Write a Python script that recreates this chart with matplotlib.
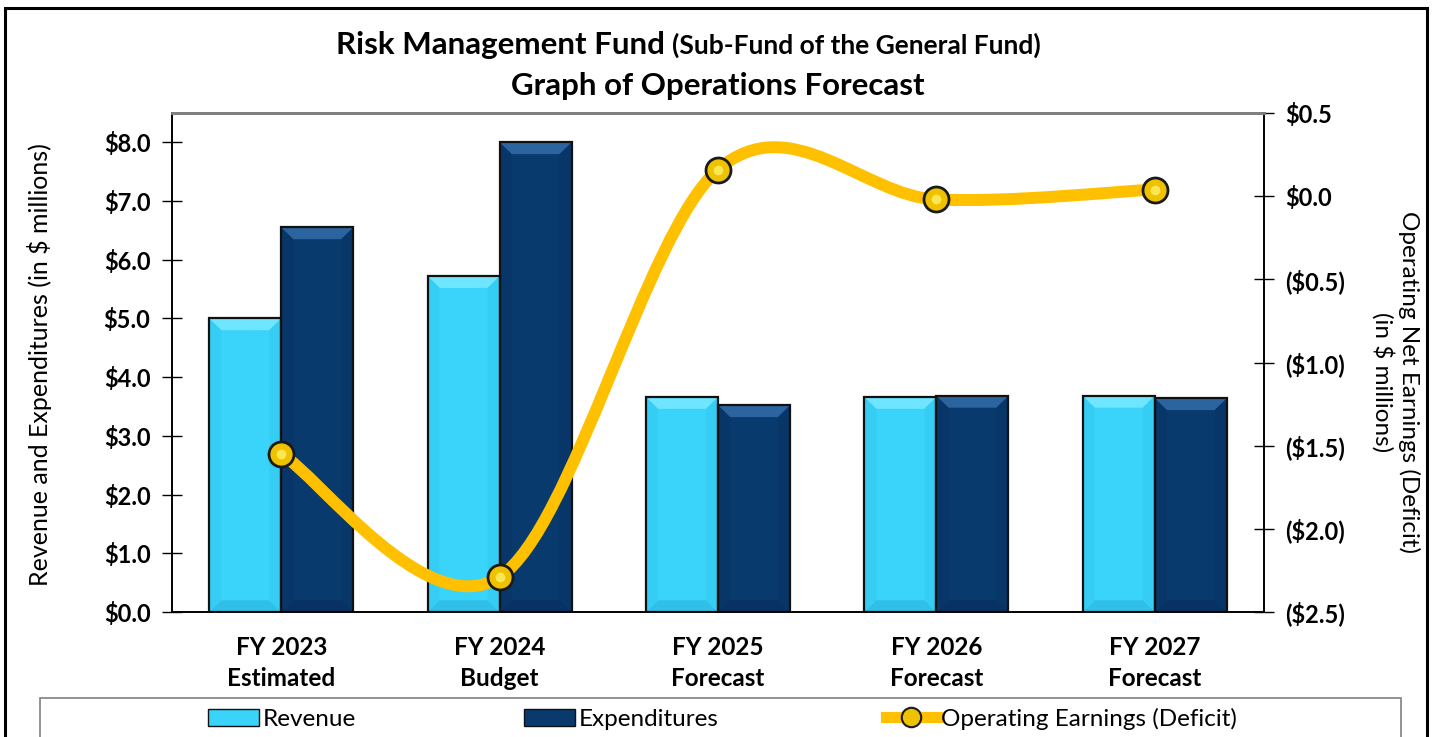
import matplotlib.pyplot as plt
import numpy as np
from matplotlib.patches import Polygon, Rectangle, Patch
from matplotlib.lines import Line2D
from matplotlib.path import Path
from matplotlib.patches import PathPatch

plt.rcParams['font.family'] = ['Lato', 'DejaVu Sans']

categories = ['FY 2023\nEstimated', 'FY 2024\nBudget', 'FY 2025\nForecast',
              'FY 2026\nForecast', 'FY 2027\nForecast']
revenue = [5.00, 5.72, 3.66, 3.66, 3.68]
expenditures = [6.55, 8.00, 3.52, 3.68, 3.64]
earnings = [-1.55, -2.29, 0.16, -0.02, 0.04]
left_ticks = [0, 1, 2, 3, 4, 5, 6, 7, 8]
right_ticks = [-2.5, -2.0, -1.5, -1.0, -0.5, 0.0, 0.5]

W, H = 1441, 737
fig = plt.figure(figsize=(W / 100, H / 100), dpi=100)
ax = fig.add_axes([172 / W, (H - 612) / H, (1264 - 172) / W, (612 - 113) / H])
ax2 = ax.twinx()

x = np.arange(len(categories))
bw = 0.33
rev_col, rev_top, rev_bot, rev_side = '#3ad4fa', '#6ee6ff', '#30bfe6', '#36cdf4'
exp_col, exp_top, exp_bot, exp_side = '#083a6e', '#2c64a0', '#073263', '#093668'


def bevel(bars, top, bot, side):
    dx, dy = 0.055, 0.2
    for b in bars:
        x0, w, h = b.get_x(), b.get_width(), b.get_height()
        polys = [
            ([(x0, h), (x0 + w, h), (x0 + w - dx, h - dy), (x0 + dx, h - dy)], top),
            ([(x0, 0), (x0 + w, 0), (x0 + w - dx, dy), (x0 + dx, dy)], bot),
            ([(x0, 0), (x0, h), (x0 + dx, h - dy), (x0 + dx, dy)], side),
            ([(x0 + w, 0), (x0 + w, h), (x0 + w - dx, h - dy), (x0 + w - dx, dy)], side),
        ]
        for pts, c in polys:
            ax.add_patch(Polygon(pts, closed=True, facecolor=c, edgecolor='none', zorder=3))
        ax.add_patch(Rectangle((x0, 0), w, h, fill=False, edgecolor='#111111', lw=1.6, zorder=4))


b1 = ax.bar(x - bw / 2, revenue, bw, color=rev_col, zorder=2)
b2 = ax.bar(x + bw / 2, expenditures, bw, color=exp_col, zorder=2)
bevel(b1, rev_top, rev_bot, rev_side)
bevel(b2, exp_top, exp_bot, exp_side)

ax.set_xlim(-0.5, 4.5)
ax.set_ylim(0, 8.5)
ax.set_yticks(left_ticks)
ax.set_yticklabels(['${:.1f}'.format(v) for v in left_ticks], fontsize=17, fontweight='bold')
ax.set_xticks(x)
ax.set_xticklabels(categories, fontsize=17.5, fontweight='bold', linespacing=1.45)
ax.tick_params(axis='x', length=0, pad=17)
ax.tick_params(axis='y', direction='inout', length=15, width=1, pad=8)

ax2.set_ylim(-2.5, 0.5)
ax2.set_yticks(right_ticks)
ax2.set_yticklabels(['${:.1f}'.format(v) if v >= 0 else '(${:.1f})'.format(-v) for v in right_ticks],
                    fontsize=17, fontweight='bold')
ax2.tick_params(axis='y', direction='inout', length=15, width=1, pad=8)

for a in (ax, ax2):
    a.spines['top'].set_color('#808080')
    a.spines['top'].set_linewidth(2)
    a.spines['left'].set_linewidth(1.2)
    a.spines['right'].set_linewidth(1.2)
    a.spines['bottom'].set_linewidth(1.2)

# smoothed line (Excel style bezier)
pts = np.column_stack([x, earnings]).astype(float)
verts = [pts[0]]
codes = [Path.MOVETO]
n = len(pts)
for i in range(n - 1):
    p0 = pts[i - 1] if i > 0 else pts[i]
    p1, p2 = pts[i], pts[i + 1]
    p3 = pts[i + 2] if i + 2 < n else pts[i + 1]
    c1 = p1 + (p2 - p0) / 6
    c2 = p2 - (p3 - p1) / 6
    verts += [c1, c2, p2]
    codes += [Path.CURVE4] * 3
ax2.add_patch(PathPatch(Path(verts, codes), facecolor='none', edgecolor='#ffc000',
                        lw=8.6, capstyle='round', zorder=5))
ax2.plot(x, earnings, linestyle='none', marker='o', markersize=18,
         markerfacecolor='#efc200', markeredgecolor='#1a1a1a', markeredgewidth=2, zorder=6)
ax2.plot(x, earnings, linestyle='none', marker='o', markersize=7,
         markerfacecolor='#fff06a', markeredgecolor='none', alpha=0.8, zorder=7)

fig.text(40 / W, 1 - 365 / H, 'Revenue and Expenditures (in $ millions)', rotation=90,
         ha='center', va='center', fontsize=18)
fig.text(1396 / W, 1 - 382 / H, 'Operating Net Earnings (Deficit)\n(in $ millions)', rotation=270,
         ha='center', va='center', fontsize=17.5, multialignment='center', linespacing=1.2)

fig.text(672 / W, 1 - 45 / H, 'Risk Management Fund ', ha='right', va='center',
         fontsize=22.5, fontweight='bold')
fig.text(672 / W, 1 - 45 / H, '(Sub-Fund of the General Fund)', ha='left', va='center',
         fontsize=19, fontweight='bold')
fig.text(718 / W, 1 - 86 / H, 'Graph of Operations Forecast', ha='center', va='center',
         fontsize=22.5, fontweight='bold')

# figure border and legend box
fig.add_artist(Rectangle((5 / W, -0.1), (1427 - 5) / W, (H - 8) / H + 0.1, transform=fig.transFigure,
                         fill=False, edgecolor='black', lw=2.2))
fig.add_artist(Rectangle((40 / W, -0.1), (1401 - 40) / W, 39 / H + 0.1, transform=fig.transFigure,
                         fill=False, edgecolor='#808080', lw=1.2))

handles = [Patch(facecolor=rev_col, edgecolor='#111111'),
           Patch(facecolor=exp_col, edgecolor='#111111'),
           Line2D([], [], color='#ffc000', lw=8, marker='o', markersize=14,
                  markerfacecolor='#efc200', markeredgecolor='#1a1a1a', markeredgewidth=1.5)]
fig.legend(handles, ['Revenue', 'Expenditures', 'Operating Earnings (Deficit)'],
           loc='center left', bbox_to_anchor=(208 / W, 1 - 719 / H), ncol=3, frameon=False,
           fontsize=17.5, handlelength=2.1, handleheight=0.75, handletextpad=0.15, columnspacing=6.9,
           borderaxespad=0, borderpad=0)

fig.savefig('out.png', dpi=100, facecolor='white')
